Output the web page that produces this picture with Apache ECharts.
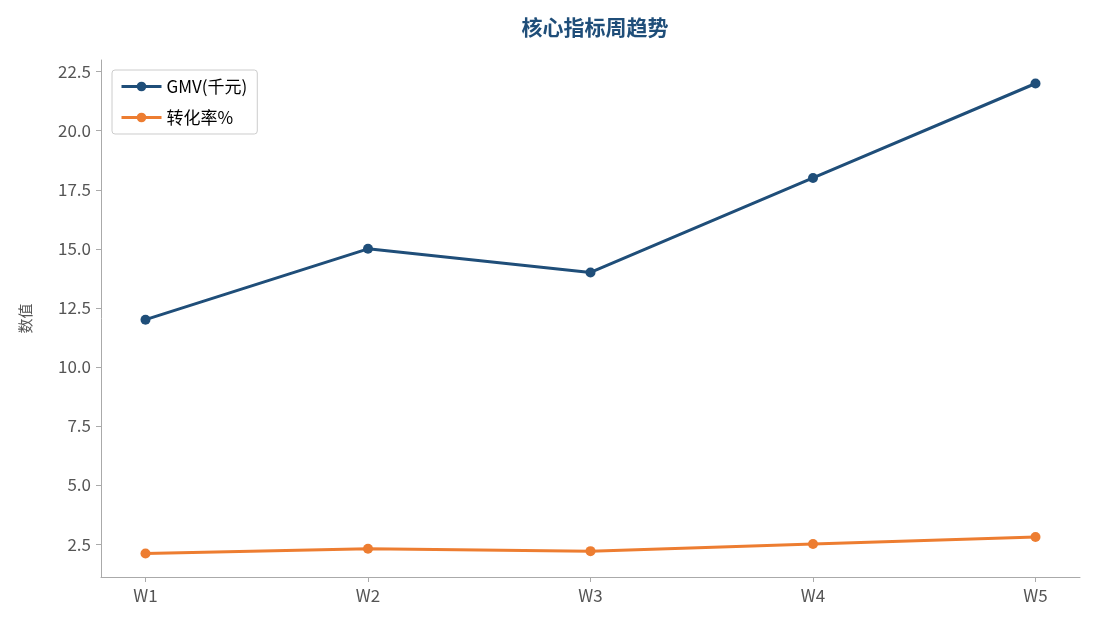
<!DOCTYPE html>
<html><head><meta charset="utf-8">
<script src="https://cdn.jsdelivr.net/npm/echarts@6/dist/echarts.min.js"></script>
<style>html,body{margin:0;padding:0;background:#fff}#c{width:1095px;height:629px}</style>
</head><body><div id="c"></div>
<script>
const categories = ['W1','W2','W3','W4','W5'];
const gmv = [12, 15, 14, 18, 22];
const conv = [2.1, 2.3, 2.2, 2.5, 2.8];
const yTicks = [2.5, 5, 7.5, 10, 12.5, 15, 17.5, 20, 22.5];
const font = "'Noto Sans CJK SC','Noto Sans',sans-serif";
const chart = echarts.init(document.getElementById('c'));
const idx = categories.map((_, i) => i);
chart.setOption({
  animation: false,
  title: {text: '核心指标周趋势', left: 590, top: 12, textAlign: 'center',
    textStyle: {fontFamily: font, fontSize: 21, fontWeight: 'bold', color: '#1f4e79'}},
  legend: {left: 112, top: 70, orient: 'vertical', itemWidth: 40, itemHeight: 12, itemGap: 14,
    padding: [8, 10, 8, 8], borderColor: '#cccccc', borderWidth: 1, borderRadius: 3,
    lineStyle: {width: 3},
    textStyle: {fontFamily: font, fontSize: 17, color: '#000'},
    data: [{name: 'GMV(千元)'}, {name: '转化率%'}]},
  grid: {left: 101, right: 15, top: 60, bottom: 52},
  xAxis: {type: 'value', min: -0.2, max: 4.2,
    axisLine: {onZero: false, lineStyle: {color: '#aaaaaa'}},
    axisTick: {customValues: idx, length: 5, lineStyle: {color: '#aaaaaa'}},
    axisLabel: {customValues: idx, formatter: v => categories[Math.round(v)], color: '#555', fontSize: 17, fontFamily: font, margin: 10},
    splitLine: {show: false}},
  yAxis: {type: 'value', min: 1.105, max: 22.995, name: '数值', nameLocation: 'middle', nameGap: 68,
    nameTextStyle: {fontFamily: font, fontSize: 15, color: '#555'},
    axisLine: {show: true, onZero: false, lineStyle: {color: '#aaaaaa'}},
    axisTick: {show: true, customValues: yTicks, length: 5, lineStyle: {color: '#aaaaaa'}},
    axisLabel: {customValues: yTicks, formatter: v => v.toFixed(1), color: '#555', fontSize: 17, fontFamily: font, margin: 10},
    splitLine: {show: false}},
  series: [
    {name: 'GMV(千元)', type: 'line', data: gmv.map((v, i) => [i, v]), symbol: 'circle', symbolSize: 10,
      lineStyle: {width: 3, color: '#1f4e79'}, itemStyle: {color: '#1f4e79'}},
    {name: '转化率%', type: 'line', data: conv.map((v, i) => [i, v]), symbol: 'circle', symbolSize: 10,
      lineStyle: {width: 3, color: '#ed7d31'}, itemStyle: {color: '#ed7d31'}}
  ]
});
</script></body></html>
